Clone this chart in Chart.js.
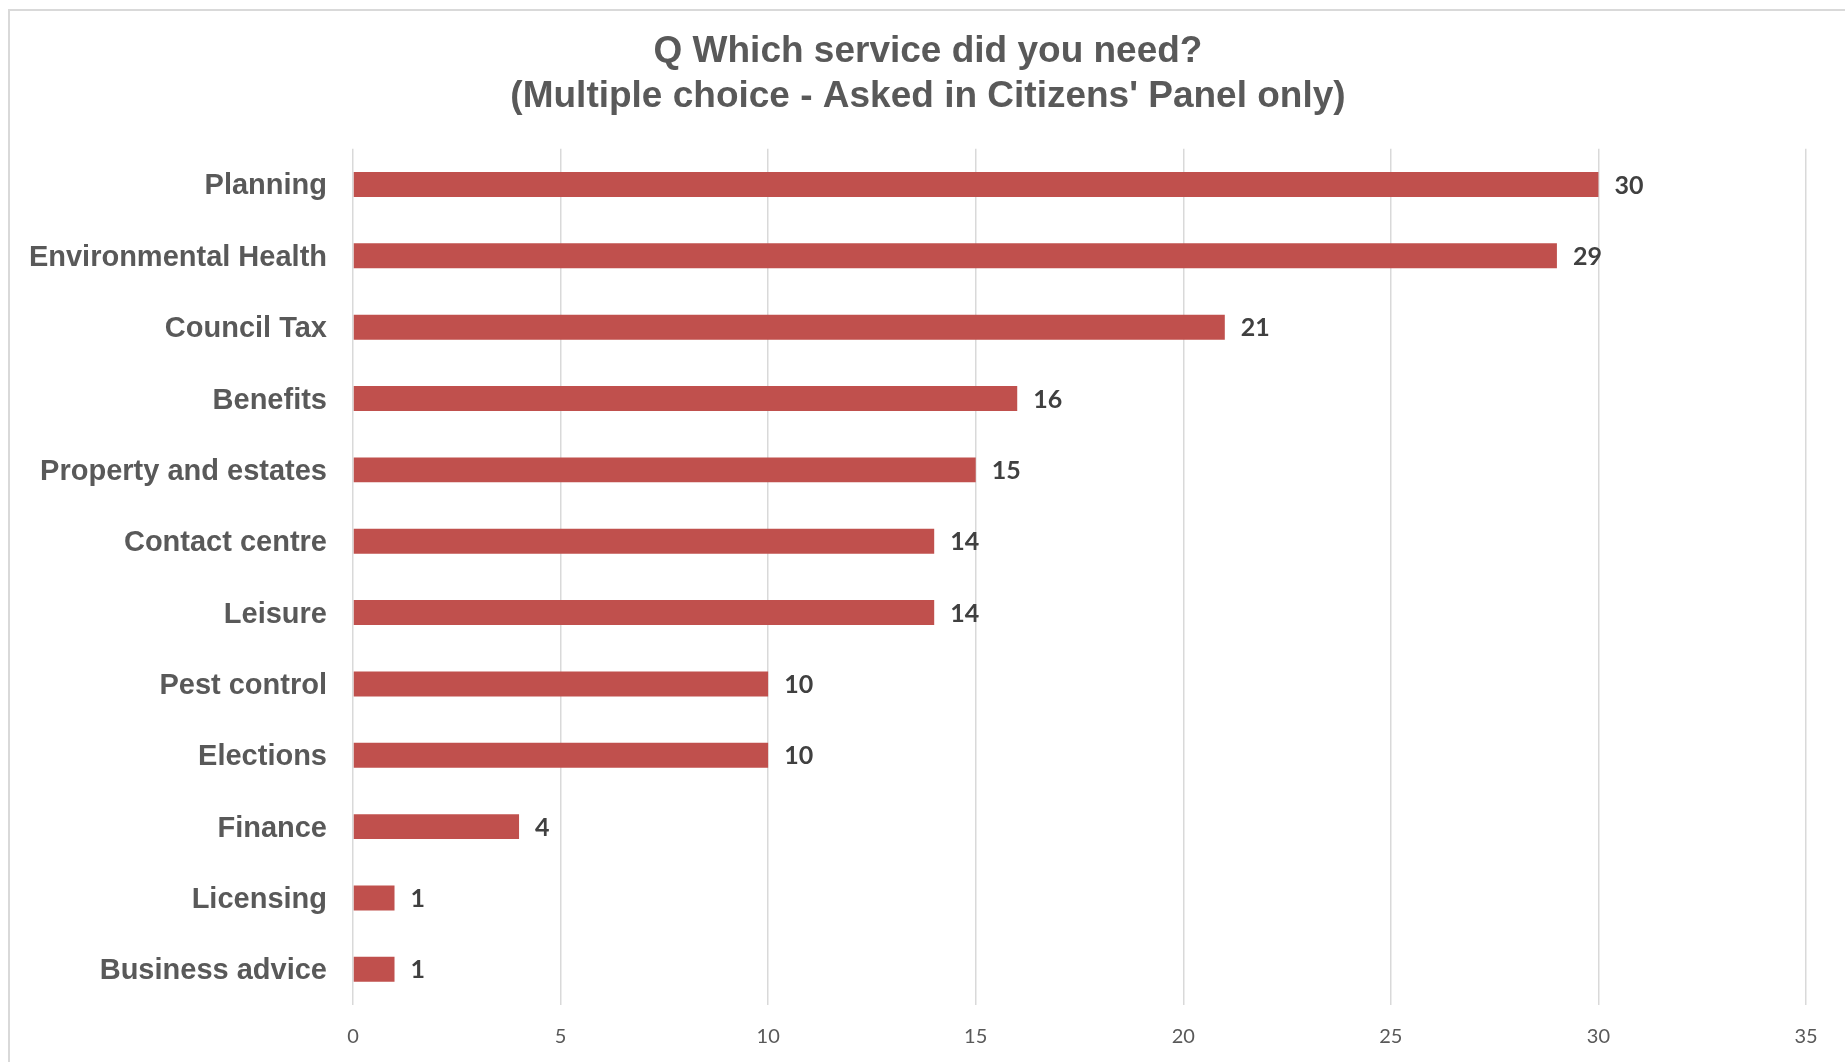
<!DOCTYPE html>
<html>
<head>
<meta charset="utf-8">
<script src="https://cdn.jsdelivr.net/npm/chart.js@4.4.1/dist/chart.umd.min.js"></script>
<style>
  html, body { margin: 0; padding: 0; background: #fff; }
  #wrap { position: relative; width: 1845px; height: 1062px; }
  #frame { position: absolute; left: 8px; top: 9px; right: -10px; bottom: -10px;
           border-left: 2px solid #d9d9d9; border-top: 2px solid #d9d9d9; pointer-events: none; }
</style>
</head>
<body>
<div id="wrap">
  <canvas id="mycanvas" width="1845" height="1062"></canvas>
  <div id="frame"></div>
</div>
<script>
var services = ["Planning", "Environmental Health", "Council Tax", "Benefits", "Property and estates",
	"Contact centre", "Leisure", "Pest control", "Elections", "Finance", "Licensing", "Business advice"];
var counts = [30, 29, 21, 16, 15, 14, 14, 10, 10, 4, 1, 1];
var titleLines = ["Q Which service did you need?", "(Multiple choice - Asked in Citizens' Panel only)"];

// value labels at the end of each bar, title nudged right a bit
var valueLabels = {
	id: "valueLabels",
	afterLayout: function(chart) {
		if (chart.titleBlock) {
			chart.titleBlock.left += 12;
			chart.titleBlock.right += 12;
		}
	},
	afterDatasetsDraw: function(chart) {
		var ctx = chart.ctx;
		var meta = chart.getDatasetMeta(0);
		ctx.save();
		ctx.font = "bold 25px Lato, 'Open Sans', sans-serif";
		ctx.fillStyle = "#404040";
		ctx.textAlign = "left";
		ctx.textBaseline = "middle";
		meta.data.forEach(function(bar, i) {
			ctx.fillText(String(counts[i]), bar.x + 16, bar.y + 1);
		});
		ctx.restore();
	}
};

var ctx = document.getElementById("mycanvas");

var chart = new Chart(ctx, {
	type: "bar",
	data: {
		labels: services,
		datasets: [{
			data: counts,
			backgroundColor: "#c0504d",
			borderWidth: 0,
			barPercentage: 0.7,
			categoryPercentage: 0.5
		}]
	},
	options: {
		indexAxis: "y",
		responsive: false,
		animation: false,
		layout: { padding: { top: 30, left: 26, right: 39, bottom: 13 } },
		plugins: {
			legend: { display: false },
			tooltip: { enabled: false },
			title: {
				display: true,
				text: titleLines,
				color: "#595959",
				font: { family: "'Liberation Sans', Arial, sans-serif", size: 37, weight: "bold", lineHeight: 1.2 },
				padding: { top: 0, bottom: 30 }
			}
		},
		scales: {
			x: {
				min: 0,
				max: 35,
				ticks: { stepSize: 5, padding: 20, color: "#595959",
					font: { family: "Lato, 'Open Sans', sans-serif", size: 20 } },
				grid: { color: "#d9d9d9", lineWidth: 1.5, drawTicks: false },
				border: { display: false },
				afterFit: function(scale) { scale.height = 44; }
			},
			y: {
				ticks: { padding: 26, labelOffset: 2, color: "#595959",
					font: { family: "'Liberation Sans', Arial, sans-serif", size: 29, weight: "bold" } },
				grid: { display: false, drawTicks: false },
				border: { display: false },
				afterFit: function(scale) { scale.width = 327; }
			}
		}
	},
	plugins: [valueLabels]
});
</script>
</body>
</html>
